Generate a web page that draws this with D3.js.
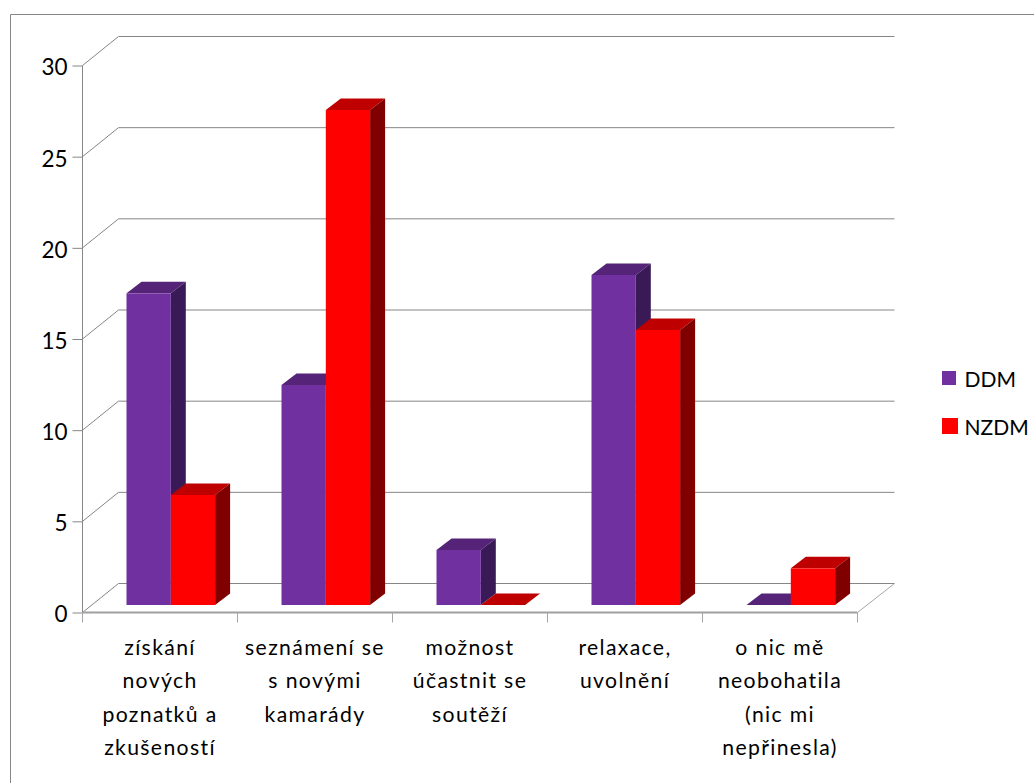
<!DOCTYPE html>
<html><head><meta charset="utf-8">
<script src="https://cdn.jsdelivr.net/npm/d3@7"></script>
<style>html,body{margin:0;padding:0;background:#fff}svg{display:block}text{font-family:Lato,Carlito,sans-serif;fill:#000}</style>
</head><body><svg id="c" width="1034" height="783"></svg>
<script>
const categories=["získání nových poznatků a zkušeností","seznámení se s novými kamarády","možnost účastnit se soutěží","relaxace, uvolnění","o nic mě neobohatila (nic mi nepřinesla)"];
const categoryLines=[["získání","nových","poznatků a","zkušeností"],["seznámení se","s novými","kamarády"],["možnost","účastnit se","soutěží"],["relaxace,","uvolnění"],["o nic mě","neobohatila","(nic mi","nepřinesla)"]];
const seriesNames=["DDM","NZDM"];
const ddm=[17,12,3,18,0];
const nzdm=[6,27,0,15,2];
const yTicks=[0,5,10,15,20,25,30];
const colors={DDM:{f:"#7030a0",t:"#552479",s:"#3a1a56"},NZDM:{f:"#ff0000",t:"#bf0000",s:"#800000"}};
const svg=d3.select("#c");
const L=82.5,R=857.5,Y0=612.5,Y30=65.5,DX=36,DY=-29;
const y=d3.scaleLinear().domain([0,30]).range([Y0,Y30]);
const x=d3.scaleBand().domain(categories).range([L,R]);
const grey="#868686",wall="#a6a6a6";
// frame
svg.append("path").attr("d","M10.5,783V14.5H1034").attr("fill","none").attr("stroke",grey);
// walls & gridlines
yTicks.forEach(t=>{
  const p=y(t);
  svg.append("path").attr("d",`M${L},${p}L${L+DX},${p+DY}H${R+DX+1}`).attr("fill","none").attr("stroke",grey).attr("stroke-width",1);
});
svg.append("line").attr("x1",R).attr("y1",Y0).attr("x2",R+DX+1).attr("y2",Y0+DY).attr("stroke",wall);
// y axis
const ya=svg.append("g").attr("transform",`translate(${L},0)`).call(d3.axisLeft(y).tickValues(yTicks).tickSize(10).tickPadding(5));
ya.select(".domain").attr("d",`M0,${Y30}V${Y0}`).attr("stroke",grey);
ya.selectAll("line").attr("stroke",grey);
ya.selectAll("text").attr("font-size",22.5).attr("dy","0.42em").attr("font-family","Lato");
// x axis
const xa=svg.append("g").attr("transform",`translate(0,${Y0})`);
xa.append("line").attr("x1",L).attr("x2",R).attr("stroke","#a0a0a0").attr("stroke-width",2);
[...categories.map(c=>x(c)),R].forEach(v=>xa.append("line").attr("x1",Math.round(v-0.6)+0.5).attr("x2",Math.round(v-0.6)+0.5).attr("y1",0).attr("y2",10).attr("stroke",wall));
categories.forEach((c,i)=>{
  const t=svg.append("text").attr("text-anchor","middle").attr("font-size",21.2).attr("letter-spacing","1.35px");
  categoryLines[i].forEach((l,j)=>t.append("tspan").attr("x",x(c)+x.bandwidth()/2).attr("y",655+j*33.3).text(l));
});
// bars
const barH=d3.scaleLinear().domain([0,30]).range([0,550]);
const BASE=605,BW=44.3,BD=15,BU=-11.5;
const bars=[];
categories.forEach((c,i)=>{
  const mid=x(c)+x.bandwidth()/2+10.8;
  bars.push({s:"DDM",v:ddm[i],x:mid-BW});
  bars.push({s:"NZDM",v:nzdm[i],x:mid});
});
bars.forEach(b=>{
  const top=BASE-barH(b.v),c=colors[b.s],g=svg.append("g");
  g.append("path").attr("fill",c.t).attr("d",`M${b.x},${top}l${BD},${BU}h${BW}l${-BD},${-BU}z`);
  if(b.v>0){
    g.append("path").attr("fill",c.s).attr("d",`M${b.x+BW},${top}l${BD},${BU}V${BASE+BU}l${-BD},${-BU}z`);
    g.append("rect").attr("x",b.x).attr("y",top).attr("width",BW).attr("height",barH(b.v)).attr("fill",c.f);
  }
});
// legend
seriesNames.forEach((n,i)=>{
  const ly=[371,418][i];
  svg.append("rect").attr("x",942).attr("y",ly).attr("width",[14,16][i]).attr("height",[14,16][i]).attr("fill",colors[n].f);
  svg.append("text").attr("x",964.5).attr("y",[387,435][i]).attr("font-size",21).text(n);
});
</script></body></html>
